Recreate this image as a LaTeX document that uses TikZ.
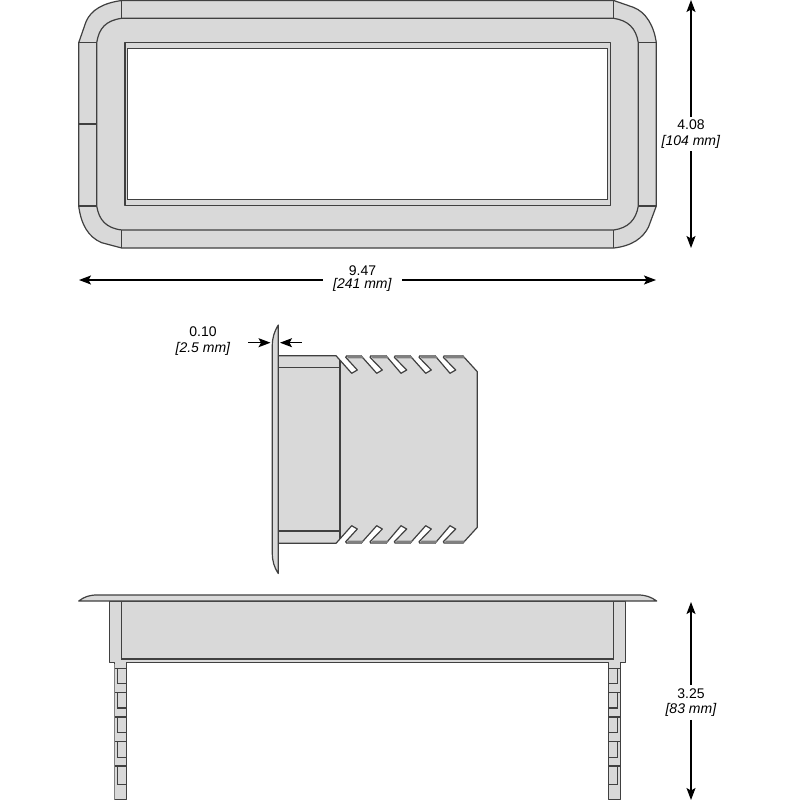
\documentclass[tikz,border=0pt]{standalone}
\usepackage{fontspec}
\setmainfont{Liberation Sans}
\usetikzlibrary{arrows.meta}
\definecolor{partfill}{HTML}{D9D9D9}
\definecolor{partline}{HTML}{404040}
\definecolor{bandfill}{HTML}{808080}
\tikzset{
  part/.style={draw=partline,line width=1.2pt,fill=partfill,line join=round},
  edge/.style={draw=partline,line width=1.2pt},
  hole/.style={draw=partline,line width=1.4pt,fill=white},
  band/.style={fill=bandfill},
  dimline/.style={draw=black,line width=1.2pt,-{Stealth[length=12pt,width=9pt,inset=2.5pt]}},
  dimlabel/.style={align=center,font=\fontsize{14}{15.5}\selectfont,inner xsep=10pt,inner ysep=3pt},
  dimlabeltight/.style={align=center,font=\fontsize{14}{13.5}\selectfont,inner xsep=10pt,inner ysep=3pt}
}
\newcommand{\dimtext}[2]{#1\\\textit{[#2]}}
\begin{document}
\begin{tikzpicture}[x=1pt,y=-1pt]
\useasboundingbox (0,0) rectangle (800,800);
\fill[white] (0,0) rectangle (800,800);

% ---------- top view ----------
\path[part] (78.7,42.7) -- (86,21.7) .. controls (91,10) and (103,3) .. (121.7,0.5)
  -- (613.7,0.5) -- (633.3,7.3) .. controls (646,12) and (654,26) .. (656.3,42.7)
  -- (656.3,206) -- (648.5,227) .. controls (643,238) and (632,246) .. (613.7,248)
  -- (121.7,248) -- (101.7,242.7) .. controls (88,237) and (81,224) .. (78.7,206) -- cycle;
\path[edge] (96.7,206) -- (96.7,42.7) .. controls (99,28) and (106,20.5) .. (121.7,18.3)
  -- (613.7,18.3) .. controls (628,20.5) and (636,28) .. (638.3,42.7)
  -- (638.3,206) .. controls (636,220) and (628,228) .. (613.7,230)
  -- (121.7,230) .. controls (106,228) and (99,220) .. (96.7,206);
\path[edge] (121.7,0.5) -- (121.7,18.3) (613.7,0.5) -- (613.7,18.3)
  (121.7,230) -- (121.7,248) (613.7,230) -- (613.7,248)
  (78.7,42.7) -- (96.7,42.7) (638.3,42.7) -- (656.3,42.7)
  (78.7,206) -- (96.7,206) (638.3,206) -- (656.3,206)
  (78.7,124) -- (96.7,124);
\path[part] (125,42.7) rectangle (610.3,205.7);
\path[hole] (127.3,48.7) rectangle (607.3,199.3);

% ---------- side view ----------
\path[part] (278.3,355.7) -- (336,355.7) -- (351.7,373.3) -- (357.3,370) -- (345.7,357.3) -- (346.7,355.7)
  -- (361,355.7) -- (376.7,373.3) -- (382.3,370) -- (370,357.3) -- (371,355.7)
  -- (386,355.7) -- (401,373.3) -- (406.7,370) -- (394.3,357.3) -- (395.3,355.7)
  -- (410,355.7) -- (425.7,373.3) -- (431.3,370) -- (419,357.3) -- (420,355.7)
  -- (435,355.7) -- (450,373.3) -- (455.7,370) -- (443.3,357.3) -- (444.3,355.7)
  -- (462.7,355.7) -- (477.3,371.7) -- (477.3,527.3) -- (462.7,543.3)
  -- (444.3,543.3) -- (443.3,541.7) -- (455.7,529) -- (450,525.7) -- (435,543.3)
  -- (420,543.3) -- (419,541.7) -- (431.3,529) -- (425.7,525.7) -- (410,543.3)
  -- (395.3,543.3) -- (394.3,541.7) -- (406.7,529) -- (401,525.7) -- (386,543.3)
  -- (371,543.3) -- (370,541.7) -- (382.3,529) -- (376.7,525.7) -- (361,543.3)
  -- (346.7,543.3) -- (345.7,541.7) -- (357.3,529) -- (351.7,525.7) -- (336,543.3)
  -- (278.3,543.3) -- cycle;
\foreach \a/\b in {346/361,370.5/386,394.8/410,419.5/435,443.8/462.7}{
  \fill[band] (\a,355.2) -- (\b,355.2) -- (\b+2.4,358.3) -- (\a+2.2,358.3) -- cycle;
  \fill[band] (\a,543.8) -- (\b,543.8) -- (\b+2.4,540.7) -- (\a+2.2,540.7) -- cycle;
}
\path[edge] (340,360) -- (340,539) (272.3,367.7) -- (340,367.7) (272.3,531) -- (340,531);
\path[part] (278.3,325) .. controls (274,332) and (272.3,338) .. (272.3,346)
  -- (272.3,553) .. controls (272.3,561) and (274,567) .. (278.3,573.5) -- cycle;

% ---------- front view ----------
\path[part] (109.3,601) -- (109.3,662.3) -- (114.3,662.3) -- (114.3,799.5) -- (126.7,799.5)
  -- (126.7,662.3) -- (608.3,662.3) -- (608.3,799.5) -- (620.7,799.5) -- (620.7,662.3)
  -- (625.7,662.3) -- (625.7,601) -- cycle;
\path[edge] (121.3,595) -- (121.3,659) -- (613.7,659) -- (613.7,595);
\path[part] (78.7,601) .. controls (84,597) and (89,595) .. (97,595) -- (638,595)
  .. controls (646,595) and (651,597) .. (656.7,601) -- cycle;
\foreach \t/\u in {668.3/683.3,692.5/708,717/732.5,741.7/757.2,766/784.2}{
  \path[edge] (114.3,\t) -- (126.7,\t) (117.5,\t) -- (117.5,\u) -- (126.7,\u);
  \path[edge] (608.3,\t) -- (620.7,\t) (617.4,\t) -- (617.4,\u) -- (608.3,\u);
}
\fill[bandfill] (113.8,664) rectangle (115.4,799.5);

% ---------- dimensions ----------
\node[dimlabel] (dimH) at (691,134) {\dimtext{4.08}{104 mm}};
\coordinate (dimHtop) at (691,0);
\coordinate (dimHbot) at (691,248);
\draw[dimline] (dimH.north) -- (dimHtop);
\draw[dimline] (dimH.south) -- (dimHbot);

\node[dimlabeltight] (dimW) at (362.5,278.5) {\dimtext{9.47}{241 mm}};
\coordinate (dimWleft) at (79,280);
\coordinate (dimWright) at (656,280);
\draw[dimline] (dimW.west |- dimWleft) -- (dimWleft);
\draw[dimline] (dimW.east |- dimWright) -- (dimWright);

\node[dimlabel] (dimT) at (203,341) {\dimtext{0.10}{2.5 mm}};
\coordinate (dimTa) at (248,342.7);
\coordinate (dimTb) at (270.5,342.7);
\coordinate (dimTc) at (301.5,342.7);
\coordinate (dimTd) at (280,342.7);
\draw[dimline] (dimTa) -- (dimTb);
\draw[dimline] (dimTc) -- (dimTd);

\node[dimlabel] (dimD) at (691,702.5) {\dimtext{3.25}{83 mm}};
\coordinate (dimDtop) at (691,602);
\coordinate (dimDbot) at (691,800);
\draw[dimline] (dimD.north) -- (dimDtop);
\draw[dimline] (dimD.south) -- (dimDbot);
\end{tikzpicture}
\end{document}
